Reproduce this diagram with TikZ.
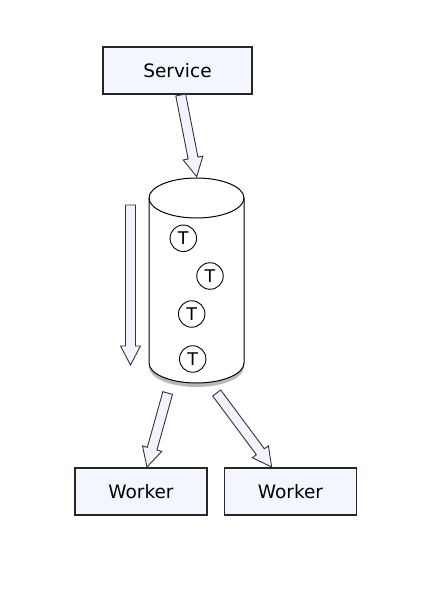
\documentclass[tikz,border=0pt]{standalone}
\usepackage{fontspec}
\setsansfont{DejaVu Sans}
\usetikzlibrary{calc,shadows}
\definecolor{boxfill}{RGB}{244,246,255}
\definecolor{arrowfill}{RGB}{242,243,255}
\tikzset{
	box/.style = {draw=black!85, line width=1.4pt, fill=boxfill, minimum height=47pt,
		font=\sffamily\fontsize{18.5}{22}\selectfont},
	token/.style = {circle, draw, line width=0.9pt, fill=white, minimum size=26.5pt, inner sep=0pt,
		font=\sffamily\fontsize{17.5}{20}\selectfont},
	fatarrow/.style = {draw=black!80, line width=0.9pt, fill=arrowfill, line join=miter},
}
\newcommand\fatarrow[2]{%
	\coordinate (h) at ($(#2)!19pt!(#1)$);
	\draw[fatarrow] ($(#1)!5pt!90:(#2)$) -- ($(h)!5pt!90:(#2)$) -- ($(h)!10pt!90:(#2)$)
		-- (#2) -- ($(h)!10pt!-90:(#2)$) -- ($(h)!5pt!-90:(#2)$) -- ($(#1)!5pt!-90:(#2)$) -- cycle;
}
\begin{document}
\begin{tikzpicture}[x=1pt,y=1pt]
	\useasboundingbox (0,0) rectangle (431,590);
	% queue
	\draw[line width=1pt, fill=white, drop shadow={shadow xshift=0pt, shadow yshift=-4pt, opacity=0.55}]
		(149,392) -- (149,227) arc (180:360:47.5 and 20) -- (244,392) arc (0:180:47.5 and 20) -- cycle;
	\draw[line width=1pt] (149,392) arc (180:360:47.5 and 20);
	\node (T1) at (183.3,351.7) [token] {T};
	\node (T2) at (210,314)     [token] {T};
	\node (T3) at (191.7,276)   [token] {T};
	\node (T4) at (192.7,231)   [token] {T};
	% boxes
	\node (S)  at (177.5,519.5) [box, minimum width=149pt] {Service};
	\node (W1) at (141,98.5)    [box, minimum width=132pt] {Worker};
	\node (W2) at (290.5,98.5)  [box, minimum width=132pt] {Worker};
	% arrow ends
	\coordinate (s0)  at (180.7,495);
	\coordinate (q0)  at (196.7,413.3);
	\coordinate (f0)  at (130.5,385);
	\coordinate (f1)  at (130.5,225);
	\coordinate (qw1) at (167.7,197);
	\coordinate (qw2) at (216.7,197);
	\coordinate (w1)  at (147,123);
	\coordinate (w2)  at (271.7,123);
	\fatarrow{s0}{q0}
	\fatarrow{f0}{f1}
	\fatarrow{qw1}{w1}
	\fatarrow{qw2}{w2}
\end{tikzpicture}
\end{document}
